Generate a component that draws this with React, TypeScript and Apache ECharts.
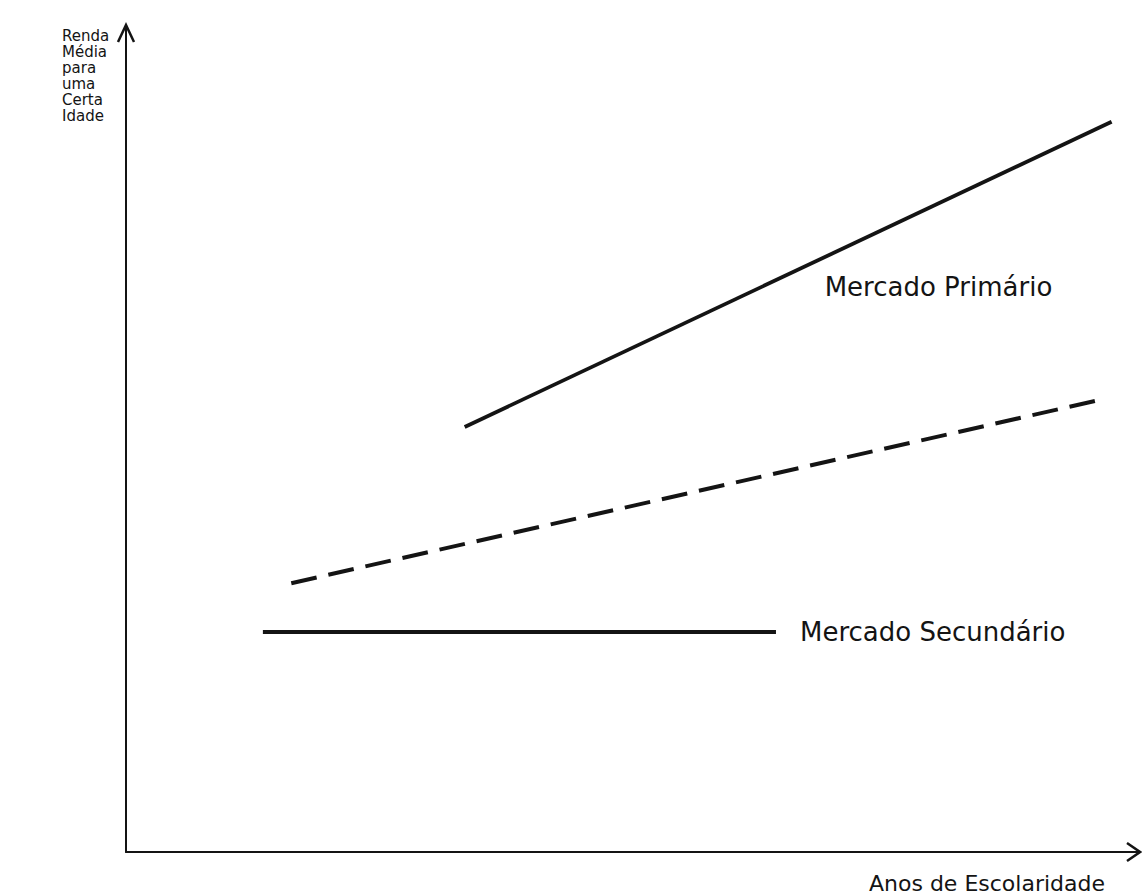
import React, { useEffect, useRef } from "react";
import * as echarts from "echarts";

const primaryLine: [number, number][] = [
  [33.4, 51.4],
  [97.2, 88.3],
];
const dashedLine: [number, number][] = [
  [16.3, 32.5],
  [96.5, 54.8],
];
const secondaryLine: [number, number][] = [
  [13.5, 26.6],
  [64.1, 26.6],
];
const primaryLabelAt: [number, number] = [68.9, 68.3];

const primaryName = "Mercado Primário";
const secondaryName = "Mercado Secundário";
const yTitleLines = ["Renda", "Média", "para", "uma", "Certa", "Idade"];
const xTitle = "Anos de Escolaridade";

const FONT = "DejaVu Sans, sans-serif";
const INK = "#141414";

export default function App() {
  const ref = useRef<HTMLDivElement>(null);
  useEffect(() => {
    document.body.style.margin = "0";
    if (!ref.current) return;
    const chart = echarts.init(ref.current, undefined, { renderer: "svg" });
    const gLeft = 126;
    const gTop = 25;
    const gRight = 2;
    const gBottom = 44;
    const W = 1142;
    const H = 896;
    const axisY = H - gBottom;
    const axisXEnd = W - gRight;
    chart.setOption({
      animation: false,
      backgroundColor: "#ffffff",
      grid: { left: gLeft, top: gTop, right: gRight, bottom: gBottom },
      xAxis: {
        type: "value",
        min: 0,
        max: 100,
        axisLine: { show: true, lineStyle: { color: INK, width: 2 } },
        axisTick: { show: false },
        axisLabel: { show: false },
        splitLine: { show: false },
      },
      yAxis: {
        type: "value",
        min: 0,
        max: 100,
        axisLine: { show: true, lineStyle: { color: INK, width: 2 } },
        axisTick: { show: false },
        axisLabel: { show: false },
        splitLine: { show: false },
      },
      series: [
        {
          name: primaryName,
          type: "line",
          data: primaryLine,
          symbol: "none",
          lineStyle: { color: INK, width: 3.8 },
        },
        {
          name: "dashed",
          type: "line",
          data: dashedLine,
          symbol: "none",
          lineStyle: { color: INK, width: 4, type: [26, 12] },
        },
        {
          name: secondaryName,
          type: "line",
          data: secondaryLine,
          symbol: "none",
          lineStyle: { color: INK, width: 3.8 },
          endLabel: {
            show: true,
            formatter: secondaryName,
            distance: 24,
            fontFamily: FONT,
            fontSize: 26,
            color: INK,
          },
        },
      ],
    });
    const lp = chart.convertToPixel({ gridIndex: 0 }, primaryLabelAt) as number[];
    chart.setOption({
      graphic: [
        {
          type: "polyline",
          shape: {
            points: [
              [axisXEnd - 13, axisY - 9],
              [axisXEnd, axisY],
              [axisXEnd - 13, axisY + 9],
            ],
          },
          style: { stroke: INK, lineWidth: 2.5, fill: null },
        },
        {
          type: "polyline",
          shape: {
            points: [
              [gLeft - 8, gTop + 17],
              [gLeft, gTop],
              [gLeft + 8, gTop + 17],
            ],
          },
          style: { stroke: INK, lineWidth: 2.5, fill: null },
        },
        {
          type: "text",
          x: lp[0],
          y: lp[1],
          style: {
            text: primaryName,
            fontFamily: FONT,
            fontSize: 26,
            fill: INK,
            verticalAlign: "middle",
            align: "left",
          },
        },
        {
          type: "text",
          left: 62,
          top: 28,
          style: {
            text: yTitleLines.join("\n"),
            fontFamily: FONT,
            fontSize: 15,
            lineHeight: 16,
            fill: INK,
          },
        },
        {
          type: "text",
          left: 869,
          top: 872,
          style: {
            text: xTitle,
            fontFamily: FONT,
            fontSize: 22,
            fill: INK,
          },
        },
      ],
    });
    return () => chart.dispose();
  }, []);
  return <div ref={ref} style={{ width: 1142, height: 896 }} />;
}
